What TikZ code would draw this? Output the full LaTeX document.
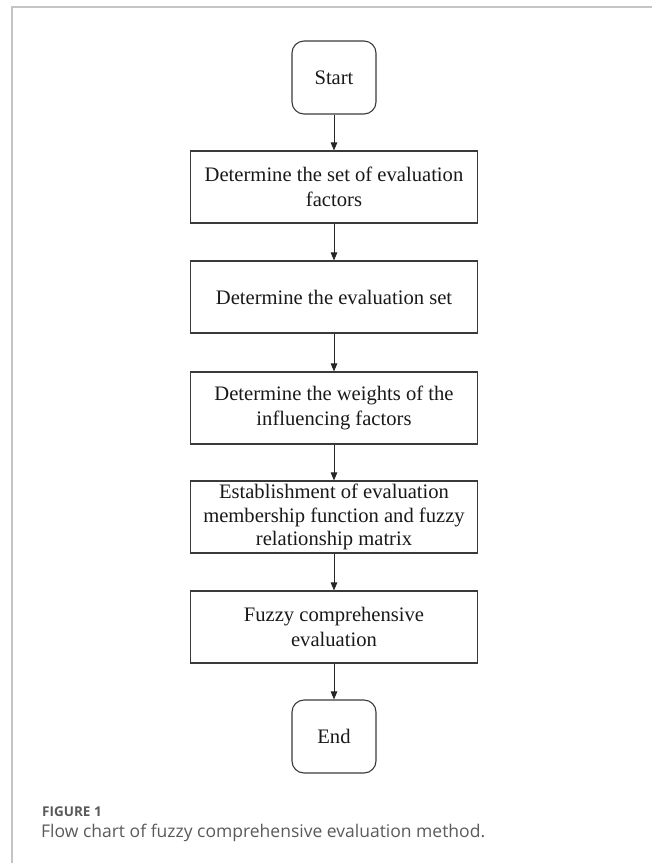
\documentclass[tikz,border=0pt]{standalone}
\usepackage{fontspec}
\setmainfont{Liberation Serif}
\newfontfamily\capfont{Open Sans}
\usetikzlibrary{arrows.meta}
\definecolor{framegray}{HTML}{C4C4C4}
\definecolor{boxline}{HTML}{3A3A3A}
\definecolor{capgray}{HTML}{5A5A5A}
\begin{document}
\begin{tikzpicture}[x=1pt,y=1pt,
  procbox/.style={draw=boxline,line width=1.1pt,minimum width=287pt,minimum height=72pt,
    inner sep=0pt,align=center,text=black!90,font=\fontsize{20.6}{25}\selectfont},
  termbox/.style={draw=boxline,line width=1.1pt,rounded corners=12pt,minimum width=84pt,
    minimum height=73pt,inner sep=0pt,align=center,text=black!90,font=\fontsize{20.6}{25}\selectfont},
  flowarrow/.style={draw=black!85,line width=0.9pt,-{Triangle[width=6.5pt,length=8pt]}}]
\useasboundingbox (0,0) rectangle (652,-863);
% frame
\draw[framegray,line width=1.6pt] (652,-7) -- (12,-7) -- (12,-863);
% nodes
\node[termbox] (start) at (334,-77.5) {Start};
\node[procbox] (b1) at (334,-187) {Determine the set of evaluation\\factors};
\node[procbox] (b2) at (334,-297) {Determine the evaluation set};
\node[procbox] (b3) at (334,-408) {Determine the weights of the\\influencing factors};
\node[procbox,font=\fontsize{20.6}{23.5}\selectfont] (b4) at (334,-517) {Establishment of evaluation\\membership function and fuzzy\\relationship matrix};
\node[procbox] (b5) at (334,-627) {Fuzzy comprehensive\\evaluation};
\node[termbox] (end) at (334,-736.5) {End};
% connectors
\draw[flowarrow] (start) -- (b1);
\draw[flowarrow] (b1) -- (b2);
\draw[flowarrow] (b2) -- (b3);
\draw[flowarrow] (b3) -- (b4);
\draw[flowarrow] (b4) -- (b5);
\draw[flowarrow] (b5) -- (end);
% caption
\node[anchor=west,inner sep=0pt,text=capgray,font=\capfont\fontsize{13.5}{16}\selectfont\bfseries] (fig) at (42,-812) {FIGURE 1};
\node[anchor=west,inner sep=0pt,text=capgray,font=\capfont\fontsize{17.5}{20}\selectfont] (cap) at (41,-833) {Flow chart of fuzzy comprehensive evaluation method.};
\end{tikzpicture}
\end{document}
